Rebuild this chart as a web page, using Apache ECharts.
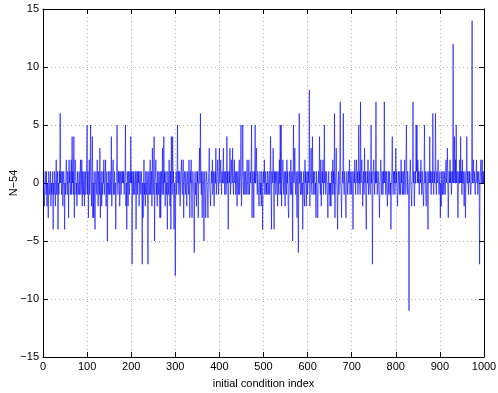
<!DOCTYPE html>
<html>
<head>
<meta charset="utf-8">
<script src="https://cdn.jsdelivr.net/npm/echarts@6/dist/echarts.min.js"></script>
<style>
  html, body { margin: 0; padding: 0; background: #fff; }
  #chart { width: 498px; height: 393px; }
</style>
</head>
<body>
<div id="chart"></div>
<script>
// N-54 per initial condition, index 1..1000
var n54 = [
  0,-1,-2,0,1,0,-1,1,-2,0,-1,-3,1,0,-1,0,1,-2,0,-1,
  0,1,-4,0,-1,1,0,-2,0,2,-1,0,1,-4,0,-1,1,0,6,0,
  1,-1,0,1,-2,0,1,0,-4,0,-1,1,2,0,-1,1,0,-3,2,0,
  1,-1,0,2,-1,4,0,1,-1,4,-3,0,2,1,-1,0,-2,1,0,-1,
  0,1,-1,0,2,-1,0,2,-2,1,0,-1,1,-2,0,1,-1,0,2,5,
  -1,1,-3,0,2,-1,1,5,0,-2,1,4,-3,0,-3,1,-1,-4,0,1,
  0,-1,2,0,-2,1,0,-1,3,-3,0,1,-2,0,-1,1,0,2,-1,0,
  1,2,-2,0,1,-5,0,-1,1,0,-1,1,0,-1,4,-2,0,1,2,-1,
  0,1,-1,0,-4,0,1,5,0,-1,1,0,1,-2,0,1,-1,0,1,0,
  1,0,1,-1,0,1,5,-2,0,-4,1,0,-2,1,0,-1,1,0,4,0,
  1,-7,0,1,-1,1,0,-1,0,1,-4,0,1,-1,1,0,1,-2,0,1,
  0,-1,1,0,-7,0,-3,0,2,-1,0,-2,1,0,-1,1,0,-7,0,1,
  -1,0,2,-1,0,1,-2,3,0,-1,1,4,-5,0,1,2,-1,0,-2,1,
  0,-1,1,0,-3,1,-3,0,1,-1,3,0,-1,4,0,1,-2,0,1,-1,
  0,-4,1,0,-1,2,0,-2,1,-4,4,0,-1,4,0,1,-4,0,-1,-8,
  0,1,-1,0,5,0,1,-1,0,1,-2,0,1,2,0,-1,1,2,-3,0,
  1,0,-1,1,0,-2,0,1,0,-1,2,0,-3,1,0,2,-1,-3,0,1,
  0,-1,-6,0,1,-1,0,-2,1,0,1,-3,0,1,3,0,6,0,-1,1,
  -3,0,1,0,-5,0,1,-1,-3,0,1,0,-1,-3,0,1,3,0,-1,-2,
  0,1,0,2,-1,0,1,-2,0,1,0,3,-1,0,1,2,0,-1,1,3,
  0,1,2,0,-1,1,0,1,3,0,1,-1,0,1,-1,0,4,0,1,-4,
  0,1,0,3,-1,0,2,1,0,3,0,-1,1,2,0,1,-1,0,1,-2,
  0,1,-1,0,2,-1,0,1,5,-2,0,1,5,0,-1,1,0,-1,1,0,
  -1,1,2,0,-1,1,2,-1,0,1,0,1,5,-3,0,1,0,-3,1,0,
  5,0,1,3,0,-1,1,0,-1,-2,0,1,-1,0,-2,1,0,-4,0,1,
  0,2,-1,0,1,-1,0,-1,1,0,-1,0,1,-1,0,4,0,-4,1,0,
  1,3,0,-4,1,0,1,-1,0,1,0,-2,1,0,-1,2,0,5,-1,5,
  -2,0,1,2,0,-1,1,0,-2,1,0,-1,2,0,1,-2,-3,0,1,0,
  -1,2,0,-1,1,-5,0,5,0,1,3,0,-1,1,0,-3,0,1,-6,0,
  6,0,1,-1,0,1,-1,0,-4,0,1,-1,-2,2,0,1,-2,0,1,-1,
  0,1,0,8,-2,0,1,3,0,-1,4,0,1,-1,0,1,-1,0,-3,1,
  0,-1,-3,0,1,0,4,0,-1,2,-2,0,1,0,2,-1,0,5,0,1,
  -1,0,1,0,-1,-3,0,1,-1,0,-2,0,-2,1,0,-1,2,0,1,-1,
  6,-3,0,1,3,0,-1,-4,0,1,-1,0,1,7,0,-1,-3,0,1,0,
  6,0,-1,1,0,-1,-3,0,1,0,-1,0,1,0,2,-1,0,1,-1,0,
  1,-1,-4,0,1,0,2,0,-1,1,2,0,1,-1,0,5,0,1,-1,7,
  0,1,2,0,-2,0,1,-1,3,0,1,-1,-4,0,1,0,2,-1,0,1,
  0,-1,1,5,0,1,-7,0,1,2,0,-1,1,0,7,0,1,-1,0,1,
  0,-1,-3,0,1,2,0,-1,1,0,-1,1,0,7,0,1,-1,0,1,-1,
  -2,0,1,-1,0,1,-1,0,-4,0,1,4,0,-1,1,0,1,-1,0,3,
  0,1,-1,-2,0,1,0,-1,1,0,-1,2,0,1,-1,0,1,-1,0,2,
  -1,0,1,5,0,-1,1,0,-1,-11,0,1,2,0,-1,-2,0,1,7,0,
  1,-2,0,1,0,5,1,5,0,2,0,1,-1,0,1,0,2,0,-1,1,
  0,-1,-2,0,5,0,1,-1,-2,0,1,-1,-4,0,1,0,4,0,1,-1,
  0,1,0,6,0,-1,1,0,1,6,0,-1,1,0,1,2,0,-1,0,1,
  -3,0,-2,1,0,-1,1,0,-1,1,0,-1,1,2,0,1,3,0,-3,0,
  1,0,2,0,1,-1,0,1,0,12,0,1,4,0,2,0,5,0,1,-1,
  -3,0,1,0,2,0,4,0,1,-1,2,0,1,0,-2,0,1,-3,0,1,
  4,0,1,0,-1,1,0,1,0,-1,0,1,14,0,1,2,0,1,0,-1,
  0,1,2,0,1,-1,0,1,0,-7,0,1,2,0,1,2,0,1,0,1
];
var xTicks = [0, 1000, 100];
var yTicks = [-15, 15, 5];

var myChart = echarts.init(document.getElementById('chart'), null, { renderer: 'canvas' });
var fontFamily = 'Liberation Sans, Arial, sans-serif';
var pts = n54.map(function (v, i) { return [i + 1, v]; });

function minus(v) { return String(v).replace('-', '\u2212'); }

var boxLine = { show: true, onZero: false, lineStyle: { color: '#000', width: 1 } };
var tickIn = { show: true, inside: true, length: 5, lineStyle: { color: '#000', width: 1 } };

var option = {
  animation: false,
  backgroundColor: '#fff',
  grid: { left: 43, right: 14, top: 9, bottom: 36, containLabel: false, outerBoundsMode: 'none' },
  xAxis: [
    {
      type: 'value', min: xTicks[0], max: xTicks[1], interval: xTicks[2],
      position: 'bottom',
      name: 'initial condition index', nameLocation: 'middle', nameGap: 21,
      nameMoveOverlap: false,
      nameTextStyle: { color: '#000', fontSize: 11, fontFamily: fontFamily },
      axisLine: boxLine, axisTick: tickIn,
      axisLabel: { color: '#000', fontSize: 11, fontFamily: fontFamily, margin: 4, formatter: minus },
      splitLine: { show: true, lineStyle: { color: '#b0b0b0', type: [1, 3], width: 1 } }
    },
    {
      type: 'value', min: xTicks[0], max: xTicks[1], interval: xTicks[2],
      position: 'top',
      axisLine: boxLine, axisTick: tickIn,
      axisLabel: { show: false }, splitLine: { show: false }
    }
  ],
  yAxis: [
    {
      type: 'value', min: yTicks[0], max: yTicks[1], interval: yTicks[2],
      position: 'left',
      name: 'N\u221254', nameLocation: 'middle', nameGap: 24, nameRotate: 90,
      nameMoveOverlap: false,
      nameTextStyle: { color: '#000', fontSize: 11, fontFamily: fontFamily },
      axisLine: boxLine, axisTick: tickIn,
      axisLabel: { color: '#000', fontSize: 11, fontFamily: fontFamily, margin: 4, formatter: minus },
      splitLine: { show: true, lineStyle: { color: '#b0b0b0', type: [1, 3], width: 1 } }
    },
    {
      type: 'value', min: yTicks[0], max: yTicks[1], interval: yTicks[2],
      position: 'right',
      axisLine: boxLine, axisTick: tickIn,
      axisLabel: { show: false }, splitLine: { show: false }
    }
  ],
  series: [
    {
      type: 'line',
      data: pts,
      xAxisIndex: 0,
      yAxisIndex: 0,
      showSymbol: false,
      symbol: 'none',
      lineStyle: { color: '#0000ff', width: 0.6 },
      itemStyle: { color: '#0000ff' }
    }
  ]
};

myChart.setOption(option);
</script>
</body>
</html>
